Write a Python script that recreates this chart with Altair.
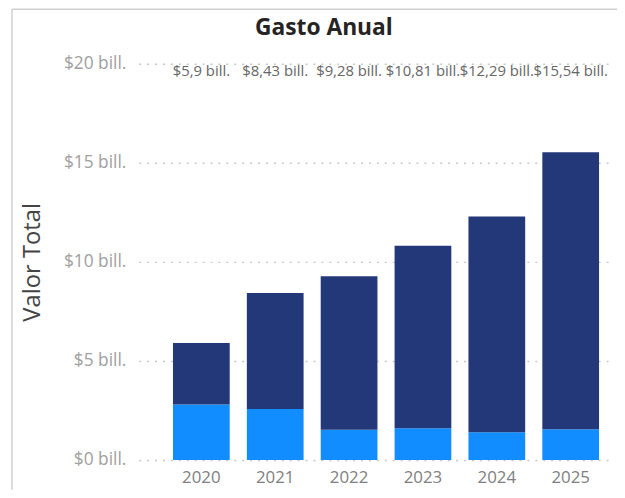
import altair as alt
import pandas as pd

years = ["2020", "2021", "2022", "2023", "2024", "2025"]
totals = [5.90, 8.43, 9.28, 10.81, 12.29, 15.54]
light_part = [2.80, 2.57, 1.52, 1.60, 1.40, 1.55]
total_labels = ["$5,9 bill.", "$8,43 bill.", "$9,28 bill.", "$10,81 bill.", "$12,29 bill.", "$15,54 bill."]
series = ["Serie B", "Serie A"]
colors = ["#118DFF", "#233878"]
chart_title = ["Gasto Anual"]

rows = []
for y, t, l in zip(years, totals, light_part):
    rows.append({"Año": y, "Serie": series[0], "Valor": l, "orden": 0})
    rows.append({"Año": y, "Serie": series[1], "Valor": round(t - l, 2), "orden": 1})
df = pd.DataFrame(rows)
lab = pd.DataFrame({"Año": years, "Total": totals, "Etiqueta": total_labels})
tdf = pd.DataFrame({"t": chart_title})

FONT = "Open Sans"

xscale = alt.Scale(domain=years, paddingInner=0.232, paddingOuter=0.32, align=0.725)

bars = alt.Chart(df).mark_bar().encode(
    x=alt.X("Año:N", scale=xscale, sort=years,
            axis=alt.Axis(title=None, labelAngle=0, ticks=False, domain=False,
                          labelPadding=10, labelFontSize=17, labelColor="#808080",
                          labelFont=FONT)),
    y=alt.Y("Valor:Q", stack="zero",
            scale=alt.Scale(domain=[0, 20], nice=False),
            axis=alt.Axis(values=[0, 5, 10, 15, 20],
                          labelExpr="'$' + datum.value + ' bill.'",
                          ticks=False, domain=False, labelPadding=13,
                          labelFontSize=17.5, labelColor="#a0a0a0", labelFont=FONT,
                          grid=True, gridDash=[2, 6], gridColor="#c8c8c8",
                          gridWidth=1.5,
                          title="Valor Total", titleFont=FONT, titleFontSize=24,
                          titleFontWeight="normal", titleColor="#444444",
                          titleAngle=270, titleX=-107, titleY=200,
                          titleAlign="center", titleBaseline="middle")),
    color=alt.Color("Serie:N", scale=alt.Scale(domain=series, range=colors), legend=None),
    order=alt.Order("orden:Q", sort="ascending"),
)

labels = alt.Chart(lab).mark_text(
    baseline="middle", align="center", fontSize=15, color="#666666", font=FONT
).encode(
    x=alt.X("Año:N", scale=xscale, sort=years),
    y=alt.value(7),
    text="Etiqueta:N",
)

title_text = alt.Chart(tdf).mark_text(
    baseline="alphabetic", align="center", fontSize=23, fontWeight="bold",
    color="#252423", font=FONT
).encode(x=alt.value(187), y=alt.value(-29), text="t:N")

frame_left = alt.Chart(tdf).mark_rule(color="#d0d0d0", strokeWidth=1.5).encode(
    x=alt.value(-128), y=alt.value(-55), y2=alt.value(430)
)
frame_top = alt.Chart(tdf).mark_rule(color="#d0d0d0", strokeWidth=1.5).encode(
    x=alt.value(-128), x2=alt.value(495), y=alt.value(-55)
)

chart = alt.layer(frame_left, frame_top, bars, labels, title_text).properties(
    width=478, height=400,
    autosize=alt.AutoSizeParams(type="none"),
    padding={"left": 132, "top": 54, "right": 5, "bottom": 28},
).configure(background="white").configure_view(stroke=None)

chart.save("out.html", embed_options={"renderer": "svg", "actions": False})
